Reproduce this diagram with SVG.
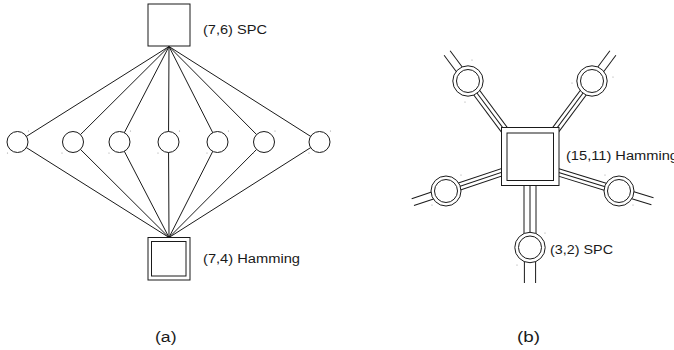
<svg xmlns="http://www.w3.org/2000/svg" width="674" height="350" viewBox="0 0 674 350">
<style>
.ln{stroke:#1a1a1a;stroke-width:1;fill:none}
.nd{stroke:#1a1a1a;stroke-width:1;fill:#fff}
.tx{font-family:"Liberation Sans",Arial,sans-serif;font-size:12px;fill:#1a1a1a}
.cap{font-family:"Liberation Sans",Arial,sans-serif;font-size:14px;fill:#1a1a1a}
.dot{fill:#9a9a9a}
</style>
<rect width="674" height="350" fill="#fff"/>
<g id="connectors">
  <g id="a-top-edges" class="ln">
    <line x1="169" y1="46.5" x2="17.5" y2="142"/>
    <line x1="169" y1="46.5" x2="73" y2="142"/>
    <line x1="169" y1="46.5" x2="119.5" y2="142"/>
    <line x1="169" y1="46.5" x2="168.5" y2="142"/>
    <line x1="169" y1="46.5" x2="217.5" y2="142"/>
    <line x1="169" y1="46.5" x2="264" y2="142"/>
    <line x1="169" y1="46.5" x2="319.5" y2="142"/>
  </g>
  <g id="a-bottom-edges" class="ln">
    <line x1="169" y1="237.5" x2="17.5" y2="142"/>
    <line x1="169" y1="237.5" x2="73" y2="142"/>
    <line x1="169" y1="237.5" x2="119.5" y2="142"/>
    <line x1="169" y1="237.5" x2="168.5" y2="142"/>
    <line x1="169" y1="237.5" x2="217.5" y2="142"/>
    <line x1="169" y1="237.5" x2="264" y2="142"/>
    <line x1="169" y1="237.5" x2="319.5" y2="142"/>
  </g>
  <g id="b-arm-tl" class="ln" transform="translate(468,81) rotate(53.3)">
    <line x1="0" y1="-3.75" x2="75" y2="-3.75"/>
    <line x1="0" y1="0" x2="75" y2="0"/>
    <line x1="0" y1="3.75" x2="75" y2="3.75"/>
    <line x1="0" y1="-3.75" x2="-35" y2="-3.75"/>
    <line x1="0" y1="3.75" x2="-35" y2="3.75"/>
  </g>
  <g id="b-arm-tr" class="ln" transform="translate(592,81) rotate(126.7)">
    <line x1="0" y1="-3.75" x2="75" y2="-3.75"/>
    <line x1="0" y1="0" x2="75" y2="0"/>
    <line x1="0" y1="3.75" x2="75" y2="3.75"/>
    <line x1="0" y1="-3.75" x2="-35" y2="-3.75"/>
    <line x1="0" y1="3.75" x2="-35" y2="3.75"/>
  </g>
  <g id="b-arm-l" class="ln" transform="translate(446,191) rotate(-18.6)">
    <line x1="0" y1="-3.6" x2="75" y2="-3.6"/>
    <line x1="0" y1="0" x2="75" y2="0"/>
    <line x1="0" y1="3.6" x2="75" y2="3.6"/>
    <line x1="0" y1="-3.6" x2="-35" y2="-3.6"/>
    <line x1="0" y1="3.6" x2="-35" y2="3.6"/>
  </g>
  <g id="b-arm-r" class="ln" transform="translate(619,191) rotate(-162.9)">
    <line x1="0" y1="-3.6" x2="75" y2="-3.6"/>
    <line x1="0" y1="0" x2="75" y2="0"/>
    <line x1="0" y1="3.6" x2="75" y2="3.6"/>
    <line x1="0" y1="-3.6" x2="-35" y2="-3.6"/>
    <line x1="0" y1="3.6" x2="-35" y2="3.6"/>
  </g>
  <g id="b-arm-b" class="ln" transform="translate(530,247.5) rotate(-90)">
    <line x1="0" y1="-6" x2="75" y2="-6"/>
    <line x1="0" y1="0" x2="75" y2="0"/>
    <line x1="0" y1="6" x2="75" y2="6"/>
    <line x1="0" y1="-5.6" x2="-35.5" y2="-5.6"/>
    <line x1="0" y1="5.6" x2="-35.5" y2="5.6"/>
  </g>
</g>
<g id="a-spc">
  <rect class="nd" x="148" y="4" width="42" height="42"/>
  <text class="tx" x="203" y="33.5" textLength="64" lengthAdjust="spacingAndGlyphs">(7,6) SPC</text>
</g>
<g id="a-v1"><circle class="nd" cx="17.5" cy="142" r="10.5"/></g>
<g id="a-v2"><circle class="nd" cx="73" cy="142" r="10.5"/></g>
<g id="a-v3"><circle class="nd" cx="119.5" cy="142" r="10.5"/></g>
<g id="a-v4"><circle class="nd" cx="168.5" cy="142" r="10.5"/></g>
<g id="a-v5"><circle class="nd" cx="217.5" cy="142" r="10.5"/></g>
<g id="a-v6"><circle class="nd" cx="264" cy="142" r="10.5"/></g>
<g id="a-v7"><circle class="nd" cx="319.5" cy="142" r="10.5"/></g>
<g id="a-hamming">
  <rect class="nd" x="148" y="237.5" width="42" height="42.5"/>
  <rect class="nd" x="151.5" y="241.5" width="34.5" height="34.5"/>
  <text class="tx" x="203" y="263" textLength="97" lengthAdjust="spacingAndGlyphs">(7,4) Hamming</text>
</g>
<g id="b-hamming">
  <rect class="nd" x="501.5" y="127.5" width="57.5" height="58"/>
  <rect class="nd" x="507" y="133" width="46.5" height="47.5"/>
  <text class="tx" x="566" y="159.5" textLength="112" lengthAdjust="spacingAndGlyphs">(15,11) Hamming</text>
</g>
<g id="b-spc-tl"><circle class="nd" cx="468" cy="81" r="15.2"/><circle class="nd" cx="468" cy="81" r="11.5"/></g>
<g id="b-spc-tr"><circle class="nd" cx="592" cy="81" r="15.2"/><circle class="nd" cx="592" cy="81" r="11.5"/></g>
<g id="b-spc-l"><circle class="nd" cx="446" cy="191" r="15"/><circle class="nd" cx="446" cy="191" r="11.5"/></g>
<g id="b-spc-r"><circle class="nd" cx="619" cy="191" r="15"/><circle class="nd" cx="619" cy="191" r="11.5"/></g>
<g id="b-spc-b">
  <circle class="nd" cx="530" cy="247.5" r="15.2"/><circle class="nd" cx="530" cy="247.5" r="11.5"/>
  <text class="tx" x="550" y="253.5" textLength="63" lengthAdjust="spacingAndGlyphs">(3,2) SPC</text>
</g>
<g id="specks" class="dot">
  <circle cx="28.5" cy="131" r="0.6"/><circle cx="7.5" cy="153" r="0.6"/>
  <circle cx="84" cy="131" r="0.6"/><circle cx="62" cy="153" r="0.6"/>
  <circle cx="130.5" cy="131" r="0.6"/><circle cx="109" cy="153" r="0.6"/>
  <circle cx="179.5" cy="131" r="0.6"/><circle cx="158" cy="153" r="0.6"/>
  <circle cx="228.5" cy="131" r="0.6"/><circle cx="207" cy="153" r="0.6"/>
  <circle cx="275" cy="131" r="0.6"/><circle cx="253.5" cy="153" r="0.6"/>
  <circle cx="330.5" cy="131" r="0.6"/><circle cx="309" cy="153" r="0.6"/>
  <circle cx="472" cy="60" r="0.6"/><circle cx="465" cy="102" r="0.6"/>
  <circle cx="572" cy="83" r="0.6"/><circle cx="613" cy="77" r="0.6"/>
  <circle cx="461" cy="175" r="0.6"/><circle cx="432" cy="205" r="0.6"/>
  <circle cx="605" cy="175" r="0.6"/><circle cx="633" cy="205" r="0.6"/>
  <circle cx="545" cy="233" r="0.6"/><circle cx="517" cy="265" r="0.6"/>
</g>
<text class="cap" x="155" y="342" textLength="21.5" lengthAdjust="spacingAndGlyphs">(a)</text>
<text class="cap" x="517" y="342" textLength="23" lengthAdjust="spacingAndGlyphs">(b)</text>
</svg>
